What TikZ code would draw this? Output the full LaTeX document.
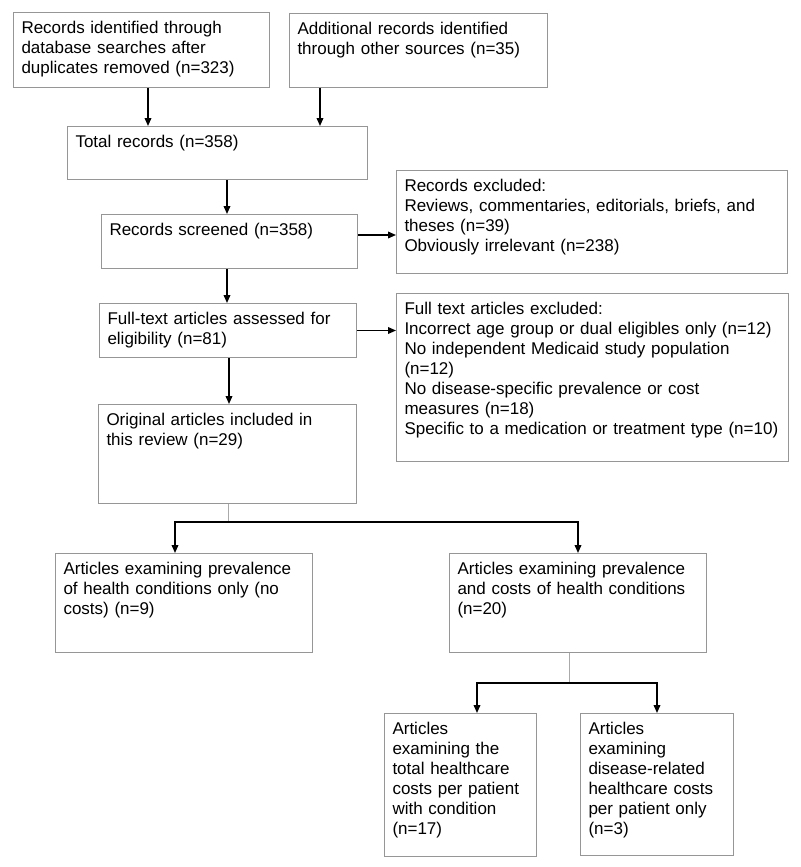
\documentclass[tikz,border=0pt]{standalone}
\usepackage{fontspec}
\setmainfont{Liberation Sans}
\usepackage{tikz}
\usetikzlibrary{arrows.meta, positioning}
\definecolor{boxline}{RGB}{150, 150, 150}
\definecolor{stubline}{RGB}{170, 170, 170}
\tikzstyle{pbox} = [rectangle, draw=boxline, line width=0.75pt, anchor=north west, align=left, inner xsep=6pt, inner ysep=6.5pt, text height=9.2pt, font=\fontsize{12.75pt}{15pt}\selectfont]
\tikzstyle{arrow} = [line width=1.1pt, -{Triangle[length=6pt, width=5pt]}]
\tikzstyle{stub} = [line width=0.6pt, draw=stubline]

\begin{document}
\begin{tikzpicture}[x=0.75pt, y=-0.75pt]
    \useasboundingbox (0,0) rectangle (800,867);

    % Identification
    \node[pbox, text width=180pt, text depth=34.05pt] (recA) at (13,12) {Records identified through\\database searches after\\duplicates removed (n=323)};
    \node[pbox, text width=181.5pt, text depth=33.3pt] (recB) at (289,13) {Additional records identified\\through other sources (n=35)};
    \node[pbox, text width=213pt, text depth=17.55pt] (tot) at (67,126) {Total records (n=358)};

    % Screening
    \node[pbox, text width=180pt, text depth=18.3pt] (scr) at (101,214) {Records screened (n=358)};
    \node[pbox, text width=281.25pt, text depth=55.05pt] (exc) at (396,170) {Records excluded:\\Reviews, commentaries, editorials, briefs, and\\theses (n=39)\\Obviously irrelevant (n=238)};

    % Eligibility
    \node[pbox, text width=180.75pt, text depth=18.3pt] (elig) at (99,303) {Full-text articles assessed for\\eligibility (n=81)};
    \node[pbox, text width=282pt, text depth=103.8pt] (ftx) at (396,293) {Full text articles excluded:\\Incorrect age group or dual eligibles only (n=12)\\No independent Medicaid study population\\(n=12)\\No disease-specific prevalence or cost\\measures (n=18)\\Specific to a medication or treatment type (n=10)};

    % Included
    \node[pbox, text width=181.5pt, text depth=52.05pt] (orig) at (98,404) {Original articles included in\\this review (n=29)};
    \node[pbox, text width=180.75pt, text depth=52.05pt] (prev) at (55,553) {Articles examining prevalence\\of health conditions only (no\\costs) (n=9)};
    \node[pbox, text width=180.75pt, text depth=52.05pt] (cost) at (449,553) {Articles examining prevalence\\and costs of health conditions\\(n=20)};
    \node[pbox, text width=102pt, text depth=85.05pt] (tcost) at (384,713) {Articles\\examining the\\total healthcare\\costs per patient\\with condition\\(n=17)};
    \node[pbox, text width=102.75pt, text depth=84.3pt] (dcost) at (580,713) {Articles\\examining\\disease-related\\healthcare costs\\per patient only\\(n=3)};

    % Connectors
    \draw[arrow] (148,0 |- recA.south) -- (148,0 |- tot.north);
    \draw[arrow] (320,0 |- recB.south) -- (320,0 |- tot.north);
    \draw[arrow] (227,0 |- tot.south) -- (227,0 |- scr.north);
    \draw[arrow] (scr.east |- 0,235) -- (exc.west |- 0,235);
    \draw[arrow] (227,0 |- scr.south) -- (227,0 |- elig.north);
    \draw[arrow] (elig.east) -- (elig.east -| ftx.west);
    \draw[arrow] (229,0 |- elig.south) -- (229,0 |- orig.north);

    % Split into prevalence / costs
    \coordinate (split1) at (228,522);
    \draw[stub] (split1 |- orig.south) -- (split1);
    \draw[arrow] (split1) -| (175,0 |- prev.north);
    \draw[arrow] (split1) -| (cost.north);

    % Split of the cost articles
    \coordinate (split2) at (569,683);
    \draw[stub] (split2 |- cost.south) -- (split2);
    \draw[arrow] (split2) -| (477,0 |- tcost.north);
    \draw[arrow] (split2) -| (657,0 |- dcost.north);
\end{tikzpicture}
\end{document}
